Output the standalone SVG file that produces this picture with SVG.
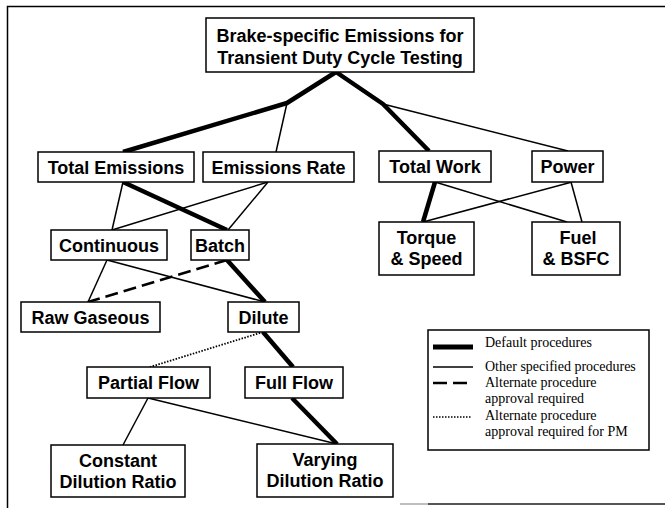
<svg xmlns="http://www.w3.org/2000/svg" width="665" height="508" viewBox="0 0 665 508">
<defs>
<style>
.box{fill:#fff;stroke:#000;stroke-width:1.5}
.t{font-family:"Liberation Sans",Arial,sans-serif;font-weight:bold;font-size:18px;text-anchor:middle;fill:#000}
.lg{font-family:"Liberation Serif","Times New Roman",serif;font-size:14px;fill:#000}
.heavy{fill:none;stroke:#000;stroke-width:4.5;stroke-linejoin:round;stroke-linecap:butt}
.thin{fill:none;stroke:#000;stroke-width:1.5}
.dash{fill:none;stroke:#000;stroke-width:2.5;stroke-dasharray:13 6}
.dot{fill:none;stroke:#000;stroke-width:1.8;stroke-dasharray:1.5 1.5}
</style>
</defs>
<rect width="665" height="508" fill="#fff"/>
<g id="frame">
<path d="M7.5,508 V6.5 H665" fill="none" stroke="#000" stroke-width="1.5"/>
<line x1="400" y1="504" x2="428" y2="504" stroke="#aaa" stroke-width="1.5"/>
<line x1="428" y1="504" x2="665" y2="504" stroke="#555" stroke-width="2"/>
</g>
<g id="connectors">
<polyline class="heavy" points="123,152 287,103 336,72 383,104 429,151"/>
<line class="heavy" x1="123" y1="182" x2="227" y2="230"/>
<line class="heavy" x1="435" y1="182" x2="423" y2="222"/>
<line class="heavy" x1="227" y1="260" x2="265" y2="302"/>
<line class="heavy" x1="263" y1="332" x2="293" y2="367"/>
<line class="heavy" x1="292" y1="398" x2="337" y2="444"/>
<line class="thin" x1="287" y1="103" x2="276" y2="152"/>
<line class="thin" x1="383" y1="104" x2="568" y2="151"/>
<line class="thin" x1="123" y1="182" x2="112" y2="230"/>
<line class="thin" x1="268" y1="182" x2="112" y2="230"/>
<line class="thin" x1="268" y1="182" x2="228" y2="230"/>
<line class="thin" x1="435" y1="182" x2="567" y2="222"/>
<line class="thin" x1="572" y1="182" x2="423" y2="222"/>
<line class="thin" x1="571" y1="182" x2="582" y2="222"/>
<line class="thin" x1="107" y1="260" x2="88" y2="302"/>
<line class="thin" x1="107" y1="260" x2="265" y2="302"/>
<line class="thin" x1="148" y1="398" x2="123" y2="445"/>
<line class="thin" x1="148" y1="398" x2="337" y2="444"/>
<line class="dash" x1="227" y1="260" x2="88" y2="302"/>
<line class="dot" x1="263" y1="332" x2="150" y2="367"/>
</g>
<g id="root">
<rect class="box" x="206" y="18" width="268" height="54"/>
<text class="t" x="340" y="41.5">Brake-specific Emissions for</text>
<text class="t" x="340" y="64">Transient Duty Cycle Testing</text>
</g>
<g id="total-emissions">
<rect class="box" x="38" y="152" width="156" height="30"/>
<text class="t" x="116" y="173.5">Total Emissions</text>
</g>
<g id="emissions-rate">
<rect class="box" x="203" y="152" width="151" height="30"/>
<text class="t" x="278.5" y="173.5">Emissions Rate</text>
</g>
<g id="total-work">
<rect class="box" x="379" y="151" width="112" height="31"/>
<text class="t" x="435" y="173">Total Work</text>
</g>
<g id="power">
<rect class="box" x="532" y="151" width="71" height="31"/>
<text class="t" x="567.5" y="173">Power</text>
</g>
<g id="continuous">
<rect class="box" x="51" y="230" width="116" height="30"/>
<text class="t" x="109" y="251.5">Continuous</text>
</g>
<g id="batch">
<rect class="box" x="191" y="230" width="58" height="30"/>
<text class="t" x="220" y="251.5">Batch</text>
</g>
<g id="torque-speed">
<rect class="box" x="379" y="222" width="95" height="53"/>
<text class="t" x="426.5" y="244">Torque</text>
<text class="t" x="426.5" y="265">&amp; Speed</text>
</g>
<g id="fuel-bsfc">
<rect class="box" x="532" y="222" width="88" height="53"/>
<text class="t" x="578" y="244">Fuel</text>
<text class="t" x="576" y="265">&amp; BSFC</text>
</g>
<g id="raw-gaseous">
<rect class="box" x="21" y="302" width="139" height="30"/>
<text class="t" x="90.5" y="323.5">Raw Gaseous</text>
</g>
<g id="dilute">
<rect class="box" x="228" y="302" width="71" height="30"/>
<text class="t" x="263.5" y="323.5">Dilute</text>
</g>
<g id="partial-flow">
<rect class="box" x="87" y="367" width="123" height="31"/>
<text class="t" x="148.5" y="389">Partial Flow</text>
</g>
<g id="full-flow">
<rect class="box" x="245" y="367" width="98" height="31"/>
<text class="t" x="294" y="389">Full Flow</text>
</g>
<g id="constant-dilution">
<rect class="box" x="51" y="445" width="134" height="52"/>
<text class="t" x="118" y="467">Constant</text>
<text class="t" x="118" y="488">Dilution Ratio</text>
</g>
<g id="varying-dilution">
<rect class="box" x="257" y="444" width="136" height="53"/>
<text class="t" x="325" y="466">Varying</text>
<text class="t" x="325" y="487">Dilution Ratio</text>
</g>
<g id="legend">
<rect x="428" y="330" width="221" height="120" fill="#fff" stroke="#000" stroke-width="1.5"/>
<line x1="433" y1="347" x2="473" y2="347" stroke="#000" stroke-width="5"/>
<line x1="433" y1="367" x2="473" y2="367" stroke="#000" stroke-width="1.5"/>
<line class="dash" x1="433" y1="383" x2="473" y2="383" style="stroke-dasharray:14 6"/>
<line class="dot" x1="433" y1="417" x2="472" y2="417" style="stroke-width:1.5"/>
<text class="lg" x="485" y="347">Default procedures</text>
<text class="lg" x="485" y="371">Other specified procedures</text>
<text class="lg" x="485" y="387">Alternate procedure</text>
<text class="lg" x="485" y="403">approval required</text>
<text class="lg" x="485" y="420">Alternate procedure</text>
<text class="lg" x="485" y="436">approval required for PM</text>
</g>
</svg>
